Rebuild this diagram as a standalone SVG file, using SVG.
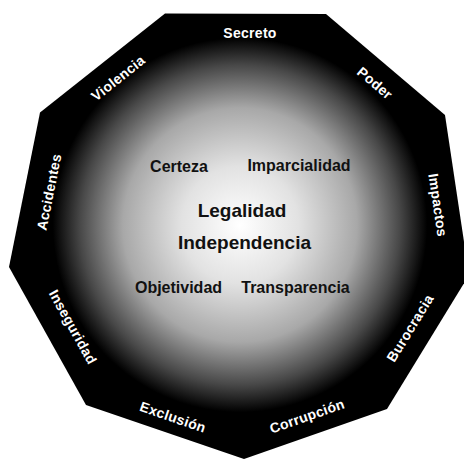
<svg xmlns="http://www.w3.org/2000/svg" width="464" height="459" viewBox="0 0 464 459">
<defs>
<radialGradient id="glow" gradientUnits="userSpaceOnUse" cx="240" cy="225" r="195">
<stop offset="0" stop-color="#ffffff"/>
<stop offset="0.3" stop-color="#e2e2e2"/>
<stop offset="0.6" stop-color="#a8a8a8"/>
<stop offset="0.82" stop-color="#484848"/>
<stop offset="0.96" stop-color="#000000"/>
<stop offset="1" stop-color="#000000"/>
</radialGradient>
<style>
.out{font-family:"Liberation Sans",Arial,sans-serif;font-weight:bold;font-size:14px;fill:#fff;text-anchor:middle;letter-spacing:0.3px}
.in{font-family:"Liberation Sans",Arial,sans-serif;font-weight:bold;font-size:16px;fill:#111;text-anchor:middle}
.big{font-size:19px}
</style>
</defs>
<g id="shape">
<polygon points="165,13.5 326,14 445,115 469,275 387,409 244,459 86,405 9,267 40,112.5" fill="url(#glow)"/>
</g>
<g id="connectors"/>
<g id="outer-labels">
<g id="secreto"><text class="out" x="250" y="38">Secreto</text></g>
<g id="poder"><text class="out" transform="translate(375,83) rotate(40.3)" x="0" y="5">Poder</text></g>
<g id="impactos"><text class="out" transform="translate(438,205) rotate(81.5)" x="0" y="5">Impactos</text></g>
<g id="burocracia"><text class="out" transform="translate(410,328) rotate(-58.5)" x="0" y="5">Burocracia</text></g>
<g id="corrupcion"><text class="out" transform="translate(307,416) rotate(-19.3)" x="0" y="5">Corrupción</text></g>
<g id="exclusion"><text class="out" transform="translate(173,417) rotate(18.9)" x="0" y="5">Exclusión</text></g>
<g id="inseguridad"><text class="out" transform="translate(73,327) rotate(60.8)" x="0" y="5">Inseguridad</text></g>
<g id="accidentes"><text class="out" transform="translate(49,192) rotate(-78.7)" x="0" y="5">Accidentes</text></g>
<g id="violencia"><text class="out" transform="translate(118,78) rotate(-38.4)" x="0" y="5">Violencia</text></g>
</g>
<g id="inner-labels">
<g id="certeza"><text class="in" x="179" y="172">Certeza</text></g>
<g id="imparcialidad"><text class="in" x="299" y="171">Imparcialidad</text></g>
<g id="legalidad"><text class="in big" x="242" y="217">Legalidad</text></g>
<g id="independencia"><text class="in big" x="244.5" y="249">Independencia</text></g>
<g id="objetividad"><text class="in" x="178.5" y="293">Objetividad</text></g>
<g id="transparencia"><text class="in" x="295.5" y="293">Transparencia</text></g>
</g>
</svg>
